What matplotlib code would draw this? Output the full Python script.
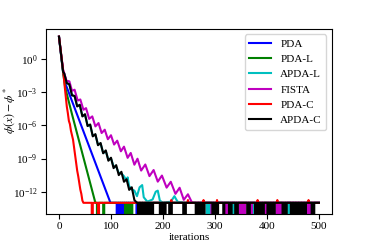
"""Convergence of phi(x) - phi* for PDA variants vs FISTA (log scale)."""
import matplotlib
matplotlib.use("Agg")
import matplotlib.pyplot as plt

plt.rcParams["font.family"] = ["Liberation Serif", "DejaVu Serif"]
plt.rcParams["mathtext.fontset"] = "stix"
plt.rcParams["font.size"] = 8
plt.rcParams["path.simplify"] = False

labels = ["PDA", "PDA-L", "APDA-L", "FISTA", "PDA-C", "APDA-C"]
colors = ["b", "g", "c", "m", "r", "k"]

# decreasing part of each curve: iteration, log10(phi(x) - phi*)
pda_it = [0, 4, 8, 12, 99]
pda_log = [2.0, 0.4, -1.2, -2.2, -13.0]

pdal_it = [0, 4, 8, 12, 25, 70]
pdal_log = [2.0, 0.3, -1.3, -2.6, -5.0, -13.0]

apdal_it = [0, 4, 8, 10, 15, 20, 25, 30, 35, 40, 45, 50, 55, 60, 65, 70, 75, 80,
            85, 90, 95, 100, 105, 110, 115, 120, 125, 130, 132, 135, 140, 145,
            150, 155, 160, 163, 170, 180, 186, 190, 194, 200, 215, 222, 228, 240]
apdal_log = [2.0, 0.4, -1.2, -1.35, -2.15, -2.35, -3.25, -3.4, -4.25, -4.2, -5.15,
             -5.05, -6.0, -6.0, -6.95, -6.85, -7.75, -7.65, -8.5, -8.35, -9.1, -9.0,
             -9.7, -9.75, -10.3, -10.35, -10.6, -11.0, -10.7, -11.5, -11.8, -11.9,
             -12.4, -11.6, -11.4, -12.5, -12.9, -12.7, -12.0, -11.9, -12.8, -13.0,
             -12.9, -12.4, -12.9, -13.0]

fista_it = [0, 4, 8, 12, 14, 20, 25, 30, 36, 41, 47, 52, 58, 64, 70, 76, 82, 88,
            94, 100, 106, 112, 119, 125, 132, 138, 145, 151, 158, 166, 174, 182,
            190, 198, 207, 215, 224, 232, 240, 248, 256]
fista_log = [2.0, 0.4, -1.0, -1.6, -1.96, -2.04, -2.89, -2.79, -3.77, -3.67, -4.6,
             -4.45, -5.42, -5.2, -6.1, -5.8, -6.7, -6.4, -7.26, -6.9, -7.74, -7.39,
             -8.35, -7.93, -8.94, -8.5, -9.56, -9.02, -10.09, -9.54, -10.59, -10.04,
             -11.09, -10.54, -11.63, -11.1, -12.19, -11.64, -12.73, -12.23, -13.0]

pdac_it = [0, 3, 6, 9, 11, 13, 15, 17, 19, 21, 23, 25, 27, 29, 31, 33, 35, 37, 39,
           41, 43, 45, 47]
pdac_log = [2.0, 0.9, -0.3, -1.5, -2.5, -3.4, -4.3, -4.9, -5.6, -5.9, -6.5, -6.9,
            -7.3, -8.0, -8.7, -9.4, -10.1, -10.6, -11.2, -11.8, -12.2, -12.8, -13.0]

apdac_it = [0, 4, 8, 10, 15, 20, 25, 30, 35, 40, 45, 50, 55, 60, 65, 70, 75, 80, 85,
            90, 95, 100, 105, 110, 115, 120, 125, 130, 135, 140, 145, 150]
apdac_log = [2.0, 0.4, -1.2, -1.3, -2.2, -2.3, -3.3, -3.35, -4.3, -4.15, -5.2, -5.0,
             -6.07, -5.93, -7.0, -6.8, -7.8, -7.6, -8.53, -8.27, -9.2, -8.93, -9.87,
             -9.6, -10.5, -10.2, -11.1, -10.87, -11.83, -11.6, -12.75, -13.0]

# machine-precision floor: iterations where the gap is exactly 0
floor_log = -13.0
pda_zeros = [112, 116, 120, 124, 150, 154, 158, 162]
pdal_zeros = [74, 86, 128, 132, 136, 140]
apdal_zeros = [184, 187, 190, 222, 226, 285, 288, 291, 333, 336, 372, 375, 440, 443]
fista_zeros = [294, 321, 324, 347, 350, 354, 357, 370, 396, 399, 419, 422, 426,
               478, 481, 484]
pdac_zeros = [64, 76]
apdac_zeros = [150, 153, 156, 159, 162, 165, 168, 171, 174, 177, 180,
               195, 198, 201, 204, 213, 216, 240, 243,
               264, 267, 270, 273, 276, 279, 296, 299, 302, 305, 317, 328, 331,
               340, 343, 363, 366, 378, 381, 384, 387, 390, 393,
               402, 405, 408, 411, 414, 431, 434, 437,
               447, 450, 453, 456, 459, 462, 465, 468, 471, 474, 487, 490]
# small red bumps above the floor
pdac_bumps = [216, 248, 278, 304, 382, 420, 480]
bump_log = -12.75
n_iter = 500


def build(it, lg, zeros, bumps=()):
    pts = {i: 10.0 ** v for i, v in zip(it, lg)}
    start = it[-1]
    tail = {n_iter: 10.0 ** floor_log}
    for z in list(zeros) + list(bumps):
        tail.setdefault(z - 1, 10.0 ** floor_log)
        tail.setdefault(z + 1, 10.0 ** floor_log)
    for b in bumps:
        tail[b] = 10.0 ** bump_log
    for z in zeros:
        tail[z] = 0.0
    for k, v in tail.items():
        if k > start:
            pts[k] = v
    xs = sorted(pts)
    return xs, [pts[k] for k in xs]


series = [
    build(pda_it, pda_log, pda_zeros),
    build(pdal_it, pdal_log, pdal_zeros),
    build(apdal_it, apdal_log, apdal_zeros),
    build(fista_it, fista_log, fista_zeros),
    build(pdac_it, pdac_log, pdac_zeros, pdac_bumps),
    build(apdac_it, apdac_log, apdac_zeros),
]

fig, ax = plt.subplots(figsize=(3.68, 2.45), dpi=100)
fig.subplots_adjust(left=0.125, right=0.902, bottom=0.127, top=0.882)
for (xs, ys), lab, c in zip(series, labels, colors):
    ax.plot(xs, ys, color=c, lw=1.5, label=lab)
ax.set_yscale("log")
ax.set_xlim(-25, 525)
ax.set_ylim(1e-14, 10 ** 2.7)
ax.set_xticks([0, 100, 200, 300, 400, 500])
ax.set_yticks([1e0, 1e-3, 1e-6, 1e-9, 1e-12])
ax.yaxis.set_minor_locator(matplotlib.ticker.NullLocator())
ax.tick_params(pad=2.5)
ax.set_xlabel("iterations", labelpad=1)
ax.set_ylabel(r"$\phi(x)-\phi^*$", fontsize=8.5)
ax.yaxis.set_label_coords(-0.1, 0.56)
ax.legend(loc="upper right")
fig.savefig("out.png", dpi=100)
